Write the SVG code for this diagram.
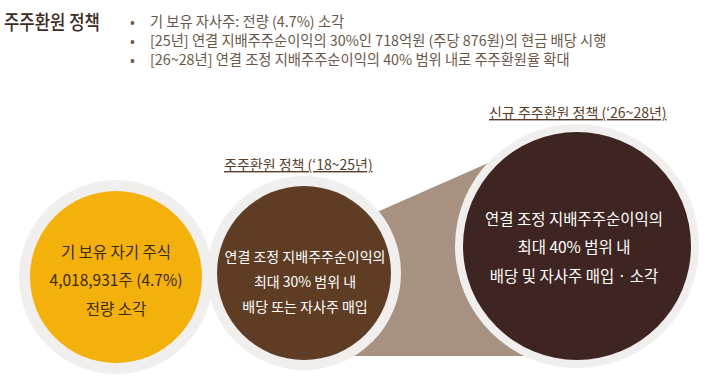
<svg xmlns="http://www.w3.org/2000/svg" width="720" height="390" viewBox="0 0 720 390">
<style>
text{font-family:"Noto Sans CJK KR","Noto Sans",sans-serif}
.title{font-size:20px;fill:#3d2b1f;font-weight:500}
.bul{font-size:14.3px;fill:#6b5749}
.sub{font-size:14px;fill:#5a3e2b;text-decoration:underline}
.ring{fill:#f1efee}
.c1t{font-size:15.5px;fill:#3a2a1a;text-anchor:middle}
.wt{font-size:14px;fill:#ffffff;text-anchor:middle}
.wt3{font-size:15.5px;fill:#ffffff;text-anchor:middle}
</style>
<rect width="720" height="390" fill="#ffffff"/>
<g id="header">
<text class="title" x="4" y="30" textLength="96" lengthAdjust="spacingAndGlyphs">주주환원 정책</text>
<text class="bul" x="130" y="27">•</text>
<text class="bul" x="150" y="27">기 보유 자사주: 전량 (4.7%) 소각</text>
<text class="bul" x="130" y="46">•</text>
<text class="bul" x="150" y="46">[25년] 연결 지배주주순이익의 30%인 718억원 (주당 876원)의 현금 배당 시행</text>
<text class="bul" x="130" y="65">•</text>
<text class="bul" x="150" y="65">[26~28년] 연결 조정 지배주주순이익의 40% 범위 내로 주주환원율 확대</text>
</g>
<g id="connectors">
<polygon points="368,216 495,160 535,356 340,356" fill="#a79281"/>
</g>
<g id="node-existing">
<circle class="ring" cx="116" cy="277" r="97"/>
<circle cx="116" cy="277" r="86" fill="#f4b10b"/>
<text class="c1t" x="116" y="258">기 보유 자기 주식</text>
<text class="c1t" x="116" y="286">4,018,931주 (4.7%)</text>
<text class="c1t" x="116" y="315">전량 소각</text>
</g>
<g id="node-old-policy">
<text class="sub" x="224" y="170">주주환원 정책 (‘18~25년)</text>
<circle class="ring" cx="304" cy="273" r="97"/>
<circle cx="304" cy="273" r="87" fill="#5e3d24"/>
<text class="wt" x="305" y="262">연결 조정 지배주주순이익의</text>
<text class="wt" x="305" y="287">최대 30% 범위 내</text>
<text class="wt" x="305" y="312">배당 또는 자사주 매입</text>
</g>
<g id="node-new-policy">
<text class="sub" x="489" y="118">신규 주주환원 정책 (‘26~28년)</text>
<circle class="ring" cx="577" cy="246" r="122"/>
<circle cx="577" cy="246" r="114" fill="#3f2521"/>
<text class="wt3" x="574" y="225">연결 조정 지배주주순이익의</text>
<text class="wt3" x="574" y="253">최대 40% 범위 내</text>
<text class="wt3" x="574" y="282">배당 및 자사주 매입 · 소각</text>
</g>
</svg>
